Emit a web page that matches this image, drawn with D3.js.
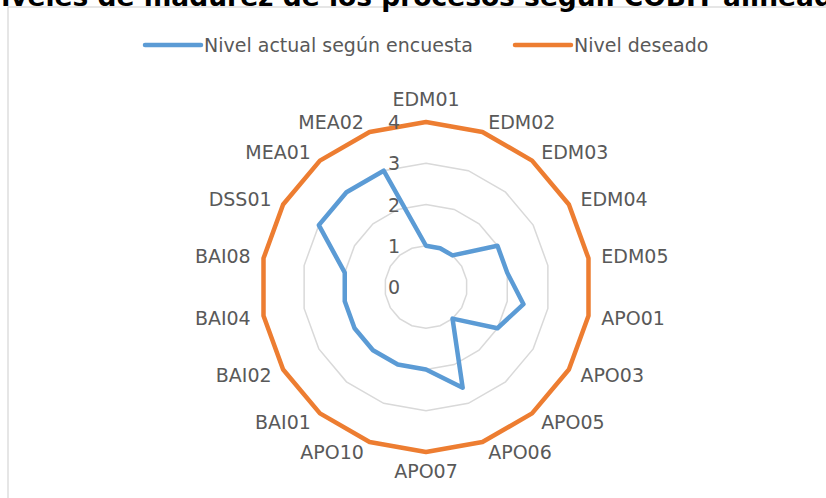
<!DOCTYPE html>
<html>
<head>
<meta charset="utf-8">
<script src="https://cdn.jsdelivr.net/npm/d3@7"></script>
<style>
  html, body { margin: 0; padding: 0; background: #fff; }
  svg { display: block; }
</style>
</head>
<body>
<svg id="chart" width="826" height="498"></svg>
<script>
// ---- data ----
const categories = ["EDM01","EDM02","EDM03","EDM04","EDM05","APO01","APO03","APO05","APO06","APO07","APO10","BAI01","BAI02","BAI04","BAI08","DSS01","MEA01","MEA02"];
const nivelActual  = [1, 1, 1, 2, 2, 2.4, 2, 1, 2.6, 2, 2, 2, 2, 2, 2, 3, 3, 3];
const nivelDeseado = [4, 4, 4, 4, 4, 4, 4, 4, 4, 4, 4, 4, 4, 4, 4, 4, 4, 4];
const tickValues = [0, 1, 2, 3, 4];
const seriesNames = ["Nivel actual según encuesta", "Nivel deseado"];
const titleText = "Niveles de madurez de los procesos según COBIT alineados";

// ---- layout ----
const W = 826, H = 498;
const cx = 426, cy = 287, R = 165;
const colors = ["#5b9bd5", "#ed7d31"];
const font = "'DejaVu Sans', sans-serif";
const textColor = "#595959";

const svg = d3.select("#chart");

// chart border (top/left visible)
svg.append("rect")
  .attr("x", 8).attr("y", 7).attr("width", W + 20).attr("height", H + 20)
  .attr("fill", "#fff").attr("stroke", "#d9d9d9").attr("stroke-width", 1.3);

// title (cropped at top)
svg.append("text")
  .attr("x", -21).attr("y", 6)
  .attr("font-family", font).attr("font-weight", "bold").attr("font-size", 26.5)
  .attr("fill", "#000")
  .text(titleText);

const r = d3.scaleLinear().domain([0, 4]).range([0, R]);
const angle = d3.scalePoint().domain(categories).range([0, 2 * Math.PI]).padding(0);
const step = 2 * Math.PI / categories.length;
const ang = (c) => categories.indexOf(c) * step;

const g = svg.append("g").attr("transform", `translate(${cx},${cy})`);

// grid rings
const ringLine = d3.lineRadial()
  .angle(d => ang(d.c))
  .radius(d => r(d.v))
  .curve(d3.curveLinearClosed);

tickValues.filter(t => t > 0).forEach(t => {
  g.append("path")
    .attr("d", ringLine(categories.map(c => ({c, v: t}))))
    .attr("fill", "none").attr("stroke", "#d9d9d9").attr("stroke-width", 1.5);
});

// series
[nivelActual, nivelDeseado].forEach((vals, si) => {
  g.append("path")
    .attr("d", ringLine(categories.map((c, i) => ({c, v: vals[i]}))))
    .attr("fill", "none").attr("stroke", colors[si])
    .attr("stroke-width", 4.5).attr("stroke-linejoin", "round");
});

// tick labels
g.selectAll("text.tick").data(tickValues).enter().append("text")
  .attr("class", "tick")
  .attr("x", -26).attr("y", d => -r(d) + 7)
  .attr("text-anchor", "end")
  .attr("font-family", font).attr("font-size", 19).attr("fill", textColor)
  .text(d => d);

// category labels
const LR = R + 11;
g.selectAll("text.cat").data(categories).enter().append("text")
  .attr("class", "cat")
  .each(function(c) {
    const a = ang(c);
    const s = Math.sin(a), co = Math.cos(a);
    let x = LR * s, y = -LR * co;
    let anchor = "middle";
    if (s > 0.1) { anchor = "start"; x += 2; y += 7; }
    else if (s < -0.1) { anchor = "end"; x -= 2; y += 7; }
    else if (co > 0) { y = -(R + 16); }
    else { y = R + 12 + 14; }
    d3.select(this).attr("x", x).attr("y", y).attr("text-anchor", anchor);
  })
  .attr("font-family", font).attr("font-size", 19).attr("fill", textColor)
  .text(d => d);

// legend
const legendItems = [
  {name: seriesNames[0], color: colors[0], x: 145},
  {name: seriesNames[1], color: colors[1], x: 515}
];
const lg = svg.append("g");
legendItems.forEach(it => {
  lg.append("line")
    .attr("x1", it.x).attr("x2", it.x + 56).attr("y1", 45).attr("y2", 45)
    .attr("stroke", it.color).attr("stroke-width", 4.5).attr("stroke-linecap", "round");
  lg.append("text")
    .attr("x", it.x + 59).attr("y", 52)
    .attr("font-family", font).attr("font-size", 19).attr("fill", textColor)
    .text(it.name);
});
</script>
</body>
</html>
